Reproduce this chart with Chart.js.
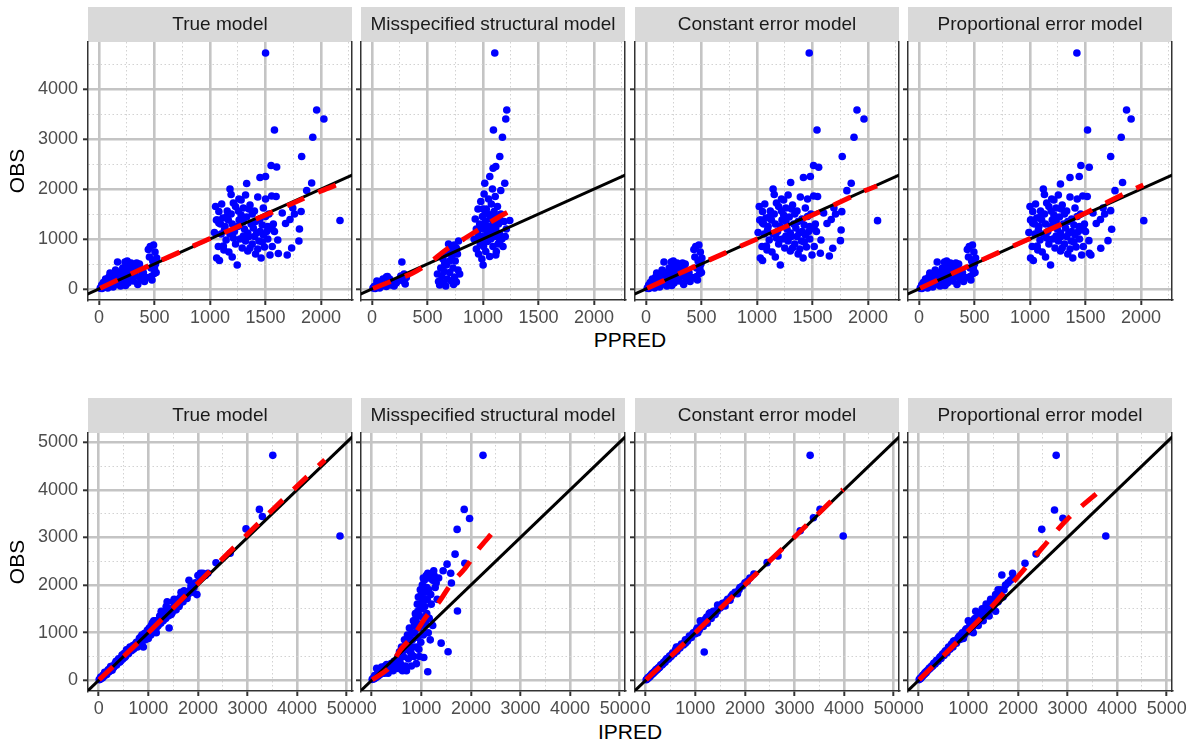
<!DOCTYPE html>
<html>
<head>
<meta charset="utf-8">
<script src="https://cdn.jsdelivr.net/npm/chart.js@4"></script>
<style>
	body { margin: 0; background: #fff; }
	#fig { position: relative; width: 1196px; height: 743px; overflow: hidden; font-family: "Liberation Sans", Arial, sans-serif; }
	#fig canvas { position: absolute; }
	.xtitle { position: absolute; left: 0; width: 1260px; text-align: center; font-size: 21px; line-height: 24px; color: #000; }
</style>
</head>
<body>
<div id="fig">
	<div class="xtitle" style="top:328px">PPRED</div>
	<div class="xtitle" style="top:720px">IPRED</div>
</div>
<script>
const models = ['True model', 'Misspecified structural model', 'Constant error model', 'Proportional error model'];

// tick labels
const xTicksPpred = [0, 500, 1000, 1500, 2000];
const xMinorPpred = [250, 750, 1250, 1750, 2250];
const xTicksIpred = [0, 1000, 2000, 3000, 4000, 5000];
const xMinorIpred = [500, 1500, 2500, 3500, 4500];
const yTicksTop = [0, 1000, 2000, 3000, 4000];
const yMinorTop = [500, 1500, 2500, 3500, 4500];
const yTicksBottom = [0, 1000, 2000, 3000, 4000, 5000];
const yMinorBottom = [500, 1500, 2500, 3500, 4500];

// [PPRED, OBS]
const ppredTrue = [
	[12,15],[20,40],[28,10],[35,70],[45,30],[55,110],[62,55],[70,150],[80,20],[88,90],[95,190],[105,60],[112,130],[120,250],[128,40],[135,170],[145,300],[152,95],[160,220],[168,540],[175,140],[185,330],[195,60],[205,260],[215,420],[225,180],[235,540],[245,310],[255,560],[262,120],[270,400],[280,230],[290,520],[300,350],[310,160],[320,450],[330,260],[340,520],[350,90],[360,380],[375,200],[390,300],[410,150],[430,230],[445,790],[455,640],[462,850],[470,420],[478,180],[485,560],[492,880],[498,310],[505,740],[510,500],[515,330],[520,620],[60,200],[100,320],[150,380],[200,120],[240,70],[320,330],[365,500],[400,330],
	[25,80],[40,130],[75,90],[90,240],[130,290],[180,250],[210,340],[265,480],[295,270],[340,400],[470,250],[500,420],
	[1500,4720],[1960,3580],[2025,3400],[1925,3035],[1580,3180],[1825,2650],[1550,2470],[1600,2440],[1500,2250],[1450,2230],[1330,2110],[1915,2120],[2170,1370],[1870,1970],[1820,1550],[1805,1200],[1800,960],[1735,820],[1695,680],[1610,980],[1615,710],[1680,1310],[1650,1520],[1745,1620],[1760,1500],[1720,1390],
	[1040,1130],[1050,1650],[1060,620],[1065,1380],[1075,850],[1085,570],[1095,1300],[1105,1700],[1115,1420],[1125,780],[1135,1250],[1145,980],[1155,1560],[1165,1380],[1180,2000],[1190,1890],[1200,640],[1210,1720],[1220,1150],[1230,900],[1245,480],[1255,1560],[1262,1380],[1270,1000],[1280,1780],[1290,820],[1300,1620],[1310,1200],[1320,1880],[1330,1440],[1340,760],[1350,1050],[1360,1680],[1370,1300],[1380,900],[1390,1220],[1400,1560],[1410,700],[1420,1120],[1430,1840],[1440,960],[1450,1400],[1460,620],[1470,1280],[1480,1620],[1490,840],[1500,1800],[1510,1150],[1520,1000],[1530,1500],[1540,680],[1555,1860],[1560,850],[1570,1300],[1580,1150],[1595,1850],
	[1080,1320],[1100,1100],[1058,1380],[1150,1450],[1200,1300],[1250,1250],[1180,1100],[1300,1350],[1340,1120],[1400,1050],[1450,1150],[1380,1500],[1280,1480],[1120,860],[1170,740],[1210,1020],[1320,960],[1360,820],[1430,800],[1480,1080],[1520,1250],[1230,1650],[1350,1600],[1080,1550],[1260,1800],[1300,1060],[1130,1180],[1190,1500],[1410,1350],[1470,940],[1560,1200],[1500,1450]
];

const ppredMis = [
	[10,20],[20,50],[30,10],[40,80],[50,40],[60,120],[70,20],[80,150],[90,60],[100,200],[110,100],[120,180],[130,50],[140,250],[150,120],[160,200],[170,80],[180,150],[200,60],[220,120],[250,200],[260,260],[270,540],[280,160],[290,300],[300,100],[310,230],[45,160],[95,140],[130,240],
	[590,300],[600,150],[610,80],[620,420],[630,250],[640,600],[645,120],[650,350],[660,700],[665,60],[670,480],[680,200],[690,900],[700,560],[700,330],[710,780],[715,160],[720,650],[730,420],[740,880],[745,240],[750,560],[760,140],[770,700],[775,380],[780,960],[790,300],[760,820],[735,90],[655,520],
	[920,1000],[930,1400],[940,800],[950,1150],[955,1600],[960,700],[970,1300],[975,900],[980,1750],[985,1050],[990,600],[995,1450],[1000,1200],[1005,850],[1010,1900],[1015,1000],[1020,1350],[1025,750],[1030,1600],[1035,1100],[1040,950],[1045,1500],[1050,1800],[1055,1250],[1060,650],[1065,1400],[1070,1000],[1075,1700],[1080,1150],[1085,2000],[1090,850],[1095,1300],[1100,1550],[1105,1050],[1110,1850],[1115,1200],[1120,750],[1125,1450],[1130,1650],[1135,900],[1140,1300],[1150,1100],[1160,1500],[1170,1000],[1180,850],[1190,1350],[1200,1050],[1210,1200],[1000,1000],[980,1250],[1060,1150],[1020,1500],[940,1200],[1000,1600],[1070,1250],[1150,1400],[1090,1450],[960,1050],[1040,1250],[1120,1100],
	[1106,4720],[1214,3580],[1205,3400],[1094,3180],[1175,3035],[1151,2650],[1115,2450],[1091,2415],[1061,2250],[1016,2115],[1196,2115],[1160,1970],[1241,1370],[1151,970],[1115,680],[1001,480]
];

const ppredConst = [
	[12,15],[20,40],[27,10],[34,70],[44,30],[53,110],[60,55],[68,150],[78,20],[85,90],[92,190],[102,60],[109,130],[116,250],[124,40],[131,170],[141,300],[147,95],[155,220],[163,540],[170,140],[180,330],[189,60],[199,260],[209,420],[218,180],[228,540],[238,310],[247,560],[254,120],[262,400],[272,230],[281,520],[291,350],[301,160],[310,450],[320,260],[330,520],[340,90],[349,380],[364,200],[378,300],[398,150],[417,230],[432,790],[441,640],[448,850],[456,420],[464,180],[470,560],[477,880],[483,310],[490,740],[495,500],[500,330],[504,620],[58,200],[97,320],[146,380],[194,120],[233,70],[310,330],[354,500],[388,330],
	[25,80],[39,130],[73,90],[88,240],[126,290],[175,250],[204,340],[258,480],[287,270],[330,400],[457,250],[486,420],
	[1470,4720],[1900,3580],[1963,3400],[1873,3035],[1540,3180],[1767,2650],[1509,2470],[1555,2435],[1480,2250],[1418,2230],[1303,2130],[1848,2115],[2085,1367],[1809,1967],[1763,1547],[1757,1180],[1751,967],[1682,814],[1651,660],[1576,980],[1570,714],[1630,1310],[1600,1520],[1692,1620],[1707,1500],[1668,1390],
	[1010,1130],[1020,1650],[1030,620],[1035,1380],[1045,850],[1050,570],[1060,1300],[1070,1700],[1080,1420],[1090,780],[1100,1250],[1110,980],[1120,1560],[1130,1380],[1145,2000],[1155,1890],[1165,640],[1175,1720],[1185,1150],[1195,900],[1210,480],[1220,1560],[1225,1380],[1230,1000],[1240,1780],[1250,820],[1260,1620],[1270,1200],[1280,1880],[1290,1440],[1300,760],[1310,1050],[1320,1680],[1330,1300],[1340,900],[1350,1220],[1360,1560],[1370,700],[1380,1120],[1390,1840],[1400,960],[1405,1400],[1415,620],[1425,1280],[1435,1620],[1445,840],[1455,1800],[1465,1150],[1475,1000],[1485,1500],[1495,680],[1510,1860],[1515,850],[1525,1300],[1535,1150],[1545,1850],
	[1050,1320],[1065,1100],[1025,1380],[1115,1450],[1165,1300],[1210,1250],[1145,1100],[1260,1350],[1300,1120],[1360,1050],[1405,1150],[1340,1500],[1240,1480],[1085,860],[1135,740],[1175,1020],[1280,960],[1320,820],[1385,800],[1435,1080],[1475,1250],[1195,1650],[1310,1600],[1050,1550],[1220,1800],[1260,1060],[1095,1180],[1155,1500],[1370,1350],[1425,940],[1515,1200],[1455,1450]
];

const ppredProp = [
	[12,15],[20,40],[27,10],[34,70],[44,30],[54,110],[61,55],[69,150],[78,20],[86,90],[93,190],[103,60],[110,130],[118,250],[125,40],[132,170],[142,300],[149,95],[157,220],[165,540],[172,140],[181,330],[191,60],[201,260],[211,420],[220,180],[230,540],[240,310],[250,560],[257,120],[265,400],[274,230],[284,520],[294,350],[304,160],[314,450],[323,260],[333,520],[343,90],[353,380],[367,200],[382,300],[402,150],[421,230],[436,790],[446,640],[453,850],[461,420],[468,180],[475,560],[482,880],[488,310],[495,740],[500,500],[505,330],[510,620],[59,200],[98,320],[147,380],[196,120],[235,70],[314,330],[358,500],[392,330],
	[25,80],[39,130],[74,90],[89,240],[128,290],[177,250],[206,340],[260,480],[290,270],[334,400],[461,250],[490,420],
	[1422,4720],[1869,3580],[1910,3400],[1821,3035],[1518,3180],[1726,2650],[1458,2470],[1533,2435],[1443,2250],[1360,2230],[1274,2100],[1833,2130],[2024,1367],[1765,1967],[1726,1567],[1735,1194],[1702,967],[1637,814],[1548,680],[1530,967],[1534,714],[1596,1310],[1567,1520],[1658,1620],[1672,1500],[1634,1390],
	[990,1130],[1000,1650],[1005,620],[1010,1380],[1020,850],[1030,570],[1040,1300],[1050,1700],[1060,1420],[1070,780],[1080,1250],[1090,980],[1095,1560],[1105,1380],[1120,2000],[1130,1890],[1140,640],[1150,1720],[1160,1150],[1170,900],[1185,480],[1190,1560],[1200,1380],[1205,1000],[1215,1780],[1225,820],[1235,1620],[1245,1200],[1255,1880],[1265,1440],[1275,760],[1280,1050],[1290,1680],[1300,1300],[1310,900],[1320,1220],[1330,1560],[1340,700],[1350,1120],[1360,1840],[1370,960],[1375,1400],[1385,620],[1395,1280],[1405,1620],[1415,840],[1425,1800],[1435,1150],[1445,1000],[1455,1500],[1465,680],[1475,1860],[1480,850],[1490,1300],[1500,1150],[1515,1850],
	[1025,1320],[1045,1100],[1005,1380],[1095,1450],[1140,1300],[1190,1250],[1120,1100],[1235,1350],[1275,1120],[1330,1050],[1375,1150],[1310,1500],[1215,1480],[1065,860],[1110,740],[1150,1020],[1255,960],[1290,820],[1360,800],[1405,1080],[1445,1250],[1170,1650],[1280,1600],[1025,1550],[1195,1800],[1235,1060],[1075,1180],[1130,1500],[1340,1350],[1395,940],[1480,1200],[1425,1450]
];

// [IPRED, OBS]
const ipredTrue = [
	[10,15],[30,20],[50,60],[70,50],[90,110],[110,90],[130,150],[150,140],[170,160],[190,220],[210,180],[230,250],[260,230],[280,300],[300,270],[330,350],[360,320],[390,420],[420,380],[450,470],[480,440],[510,560],[540,500],[570,600],[600,560],[630,700],[660,620],[690,730],[720,680],[760,800],[800,760],[840,900],[880,830],[900,700],[920,980],[950,900],[980,1050],[1000,880],[1020,1100],[1050,950],[1080,1200],[1100,1020],[1120,1180],[1150,1080],[1180,1250],[1200,1150],[1230,1350],[1250,1200],[1280,1380],[1300,1250],[1330,1450],[1350,1300],[1380,1650],[1400,1350],[1420,1100],[1450,1500],[1480,1420],[1500,1650],[1530,1550],[1560,1480],[1600,1700],[1630,1600],[1660,1850],[1700,1650],[1740,1800],[1780,1720],[1820,2100],[1850,1900],[1900,1850],[1950,2050],[1980,1800],[2000,2200],[2050,2150],[2100,2250],[2150,2200],
	[1060,1150],[1140,1250],[1220,1250],[1310,1400],[1160,1000],[1260,1450],[1360,1550],[1440,1380],[1520,1700],[1580,1580],[1650,1750],[1720,1880],[1800,1800],[870,950],[940,850],[1020,1000],[600,650],[700,650],[400,450],[200,200],
	[40,70],[80,60],[120,170],[160,120],[240,290],[270,210],[320,300],[350,400],[440,400],[470,530],[520,480],[560,640],[650,690],[740,760],[780,700],[820,880],[860,780],[960,1000],[1040,1050],[1110,1250],[1180,1130],[1240,1300],[1340,1380],[1400,1500],[1460,1380],[1540,1600],[1620,1550],[1680,1700],[1760,1850],[1860,1980],[1920,1950],[2050,2250],[2200,2250],
	[2365,2470],[2650,2670],[2970,3180],[3240,3590],[3300,3440],[3510,4725],[4865,3030]
];

const ipredMis = [
	[10,20],[30,40],[50,30],[70,80],[90,60],[110,130],[130,90],[150,170],[170,120],[190,210],[210,150],[230,260],[250,180],[270,300],[290,200],[310,250],[330,150],[350,300],[370,220],[390,350],[410,270],[430,200],[450,400],[470,320],[490,250],[100,250],[200,280],[300,330],
	[520,400],[540,250],[560,600],[580,350],[600,700],[620,200],[640,500],[660,850],[680,300],[700,650],[720,950],[740,450],[760,1100],[780,600],[800,300],[820,850],[840,1250],[850,500],[870,1000],[880,1400],[900,700],[910,1200],[920,1600],[930,900],[940,1750],[950,1100],[960,500],[970,1350],[980,1900],[990,800],[1000,1500],[1010,1150],[1020,2000],[1030,1700],[1040,950],[1050,1300],[1060,2100],[1070,1550],[1080,1850],[1090,1200],[1100,2200],[1110,1400],[1120,1700],[1130,2250],[1140,1000],[1150,1900],[1160,1300],[1180,2200],[1200,1600],[1230,2100],[1250,2300],[1280,1950],[1300,2050],[1320,1700],[1350,2150],
	[60,100],[140,120],[180,250],[220,200],[260,150],[320,280],[380,300],[420,350],[460,280],[500,350],[530,500],[570,450],[610,550],[650,650],[690,800],[730,700],[770,900],[810,1000],[830,700],[860,1150],[890,1300],[930,1450],[970,1600],[1000,1800],[1040,2150],[1080,1700],[1110,1950],[1150,2150],[1190,1800],[1260,2200],
	[700,200],[800,550],[900,350],[950,650],[1050,480],[1130,180],[1180,850],[1230,1150],[1400,780],[1540,600],
	[2244,4725],[1865,3590],[1973,3400],[1722,3170],[1681,2650],[1878,2460],[1519,2440],[1593,2250],[1729,1456],[1607,2044],[1440,2300]
];

const ipredConst = [
	[10,12],[30,25],[50,55],[70,65],[90,95],[110,105],[130,140],[150,145],[170,180],[190,185],[210,225],[230,220],[260,270],[280,275],[300,320],[330,320],[360,380],[390,380],[420,450],[450,440],[480,510],[510,500],[540,570],[570,560],[600,640],[630,610],[660,700],[690,680],[720,760],[760,740],[800,850],[840,820],[880,930],[920,900],[960,1000],[1000,980],[1040,1100],[1080,1060],[1120,1200],[1160,1130],[1200,1280],[1240,1200],[1280,1400],[1320,1300],[1360,1450],[1400,1380],[1450,1580],[1500,1520],[1550,1620],[1600,1560],[1650,1700],[1700,1680],[1750,1800],[1800,1850],[1850,1820],[1900,1950],[2000,2050],[2100,2150],
	[1100,1250],[1230,1330],[1300,1420],[1440,1450],[1540,1560],[620,700],[800,780],[400,420],[200,210],[1050,1000],
	[40,45],[80,75],[120,125],[160,165],[240,245],[270,265],[320,330],[350,345],[440,455],[470,465],[520,530],[560,565],[650,660],[740,750],[780,790],[820,840],[860,870],[940,960],[1020,1050],[1140,1180],[1190,1230],[1260,1290],[1340,1380],[1420,1460],[1480,1540],[1580,1620],[1630,1660],[1720,1760],[1880,1900],[1950,1980],[2050,2080],
	[2181,2233],[2448,2471],[2668,2611],[3115,3143],[3382,3416],[3515,3591],[3315,4725],[3982,3031],[1180,595]
];

const ipredProp = [
	[10,15],[30,35],[50,60],[70,80],[90,110],[110,120],[130,160],[150,160],[170,200],[190,210],[210,250],[230,250],[260,300],[280,300],[300,350],[330,340],[360,420],[390,400],[420,480],[450,460],[480,550],[510,520],[540,620],[570,580],[600,700],[630,650],[660,760],[690,700],[720,830],[760,780],[800,900],[840,860],[880,1000],[920,950],[960,1080],[1000,1020],[1040,1180],[1080,1100],[1120,1280],[1160,1180],[1200,1380],[1240,1260],[1280,1500],[1320,1350],[1360,1600],[1400,1450],[1450,1700],[1500,1550],[1550,1800],[1600,1650],[1650,1900],[1700,1750],[1750,2000],[1800,2050],[1900,2150],
	[1000,1250],[1150,1450],[1300,1250],[1420,1350],[1550,1450],[1600,1900],[900,880],[1100,1000],[700,820],[1200,1150],
	[40,45],[80,95],[120,140],[160,190],[240,275],[270,290],[320,370],[350,380],[440,500],[470,510],[520,590],[560,620],[650,720],[740,820],[780,860],[820,930],[860,960],[940,1050],[1020,1120],[1140,1300],[1190,1300],[1260,1420],[1340,1500],[1420,1600],[1480,1680],[1580,1750],[1630,1800],[1720,1900],[1850,2100],
	[1676,2212],[1893,2247],[2143,2457],[2366,2653],[2481,3171],[2738,3577],[2907,3402],[2772,4725],[3772,3031]
];

// smooth (red dashed) lines
const smoothPpredTrue = [[12,15],[250,262],[500,515],[750,760],[1000,1010],[1250,1245],[1500,1480],[1750,1720],[2000,1960],[2170,2110]];
const smoothPpredMis = [[10,10],[170,150],[360,310],[510,510],[670,790],[820,990],[990,1230],[1150,1450],[1240,1560]];
const smoothPpredConst = [[12,15],[500,510],[1000,1000],[1500,1480],[1930,1930],[2080,2060]];
const smoothPpredProp = [[12,15],[500,515],[1000,1010],[1500,1520],[1890,1950],[2020,2080]];
const smoothIpredTrue = [[10,10],[1000,1000],[2000,2040],[3000,3070],[4000,4080],[4560,4630]];
const smoothIpredMis = [[10,10],[340,250],[580,640],[850,950],[1100,1340],[1360,1650],[1610,2040],[1880,2350],[2140,2740],[2410,3070]];
const smoothIpredConst = [[10,10],[1000,1000],[2000,2010],[3000,3010],[3980,4010]];
const smoothIpredProp = [[10,10],[1000,1040],[1500,1580],[2000,2180],[2500,2790],[3000,3390],[3750,4070]];

const identity = [[-1000,-1000],[6000,6000]];

const rangePpred = [-98, 2278];
const rangeIpred = [-216, 5107];
const rangeObsTop = [-220, 4940];
const rangeObsBottom = [-225, 5195];

const panelLeft = [88, 361, 635, 908];
const panelW = 264;
const fontFamily = '"Liberation Sans", Arial, sans-serif';

Chart.defaults.font.family = fontFamily;

const stripPlugin = {
	id: 'strip',
	beforeDraw(chart)
	{
		let a = chart.chartArea;
		let t = chart.titleBlock;
		let ctx = chart.ctx;
		ctx.save();
		ctx.fillStyle = '#d9d9d9';
		ctx.fillRect(a.left, t.top, a.right - a.left, a.top - t.top);
		ctx.restore();
	}
};

function toXY(arr)
{
	return arr.map(p => ({x: p[0], y: p[1]}));
}

function axis(major, minor, range, showLabels)
{
	let isMinor = c => c.tick && minor.includes(c.tick.value);
	return {
		type: 'linear',
		min: range[0],
		max: range[1],
		afterBuildTicks: s => {
			s.ticks = major.concat(minor)
				.filter(v => v >= range[0] && v <= range[1])
				.sort((a, b) => a - b)
				.map(v => ({value: v}));
		},
		ticks: {
			display: showLabels,
			autoSkip: false,
			maxRotation: 0,
			color: '#4d4d4d',
			font: {size: 18},
			padding: 5,
			callback: v => major.includes(v) ? String(v) : ''
		},
		grid: {
			color: c => isMinor(c) ? '#d2d2d2' : '#c4c4c4',
			lineWidth: c => isMinor(c) ? 1 : 2.6,
			tickColor: c => isMinor(c) ? 'rgba(0,0,0,0)' : '#333',
			tickLength: 5,
			tickWidth: 2
		},
		border: {
			color: '#333',
			width: 1.5,
			dash: c => isMinor(c) ? [1.5, 2.5] : []
		}
	};
}

function makePanel(row, col, pts, smooth)
{
	let first = col === 0;
	let leftW = first ? 88 : 8;
	let canvas = document.createElement('canvas');
	canvas.width = leftW + panelW + 25;
	canvas.height = 330;
	canvas.style.left = (panelLeft[col] - leftW) + 'px';
	canvas.style.top = (row === 0 ? 0 : 391) + 'px';
	document.getElementById('fig').appendChild(canvas);

	let x = row === 0
		? axis(xTicksPpred, xMinorPpred, rangePpred, true)
		: axis(xTicksIpred, xMinorIpred, rangeIpred, true);
	x.ticks.padding = 2;
	x.afterFit = s => { s.height = 30; };

	let y = row === 0
		? axis(yTicksTop, yMinorTop, rangeObsTop, first)
		: axis(yTicksBottom, yMinorBottom, rangeObsBottom, first);
	y.afterFit = s => { s.width = leftW; };
	if (first)
	{
		y.title = {display: true, text: 'OBS', color: '#000', font: {size: 21}, padding: {top: 6, bottom: 0}};
	}

	new Chart(canvas.getContext('2d'), {
		type: 'scatter',
		data: {
			datasets: [
				{
					data: toXY(smooth), showLine: true, borderColor: '#ff0000', borderWidth: 5,
					borderDash: [19, 15], borderCapStyle: 'butt', pointRadius: 0, tension: 0.3,
					xAxisID: 'x', yAxisID: 'y', order: 1
				},
				{
					data: toXY(identity), showLine: true, borderColor: '#000', borderWidth: 3,
					pointRadius: 0, xAxisID: 'x', yAxisID: 'y', order: 2
				},
				{
					data: toXY(pts), pointRadius: 3.8, pointBackgroundColor: '#0000ff', backgroundColor: '#0000ff',
					pointBorderWidth: 0, borderWidth: 0, xAxisID: 'x', yAxisID: 'y', order: 3
				}
			]
		},
		options: {
			responsive: false,
			animation: false,
			events: [],
			layout: {padding: {top: 7, right: 25, bottom: 0, left: 0}},
			scales: {
				x: x,
				y: y,
				yr: {
					position: 'right',
					ticks: {display: false},
					grid: {drawOnChartArea: false, drawTicks: false},
					border: {color: '#333', width: 1.5},
					afterFit: s => { s.width = 0; }
				}
			},
			plugins: {
				legend: {display: false},
				tooltip: {enabled: false},
				title: {
					display: true,
					text: models[col],
					fullSize: false,
					color: '#1a1a1a',
					font: {size: 19, weight: 'normal', lineHeight: '23px'},
					padding: {top: 6, bottom: 6}
				}
			}
		},
		plugins: [stripPlugin]
	});
}

const topRow = [ppredTrue, ppredMis, ppredConst, ppredProp];
const topSmooth = [smoothPpredTrue, smoothPpredMis, smoothPpredConst, smoothPpredProp];
const bottomRow = [ipredTrue, ipredMis, ipredConst, ipredProp];
const bottomSmooth = [smoothIpredTrue, smoothIpredMis, smoothIpredConst, smoothIpredProp];

for (let i = 0; i < 4; i++)
{
	makePanel(0, i, topRow[i], topSmooth[i]);
	makePanel(1, i, bottomRow[i], bottomSmooth[i]);
}
</script>
</body>
</html>
